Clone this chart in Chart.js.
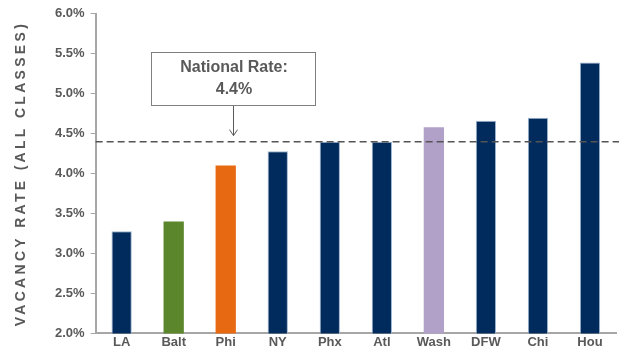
<!DOCTYPE html>
<html>
<head>
<meta charset="utf-8">
<script src="https://cdn.jsdelivr.net/npm/chart.js@4.4.1/dist/chart.umd.min.js"></script>
<style>
  html, body { margin: 0; padding: 0; background: #ffffff; }
  #wrap { width: 619px; height: 353px; position: relative; }
</style>
</head>
<body>
<div id="wrap"><canvas id="c" width="619" height="353"></canvas></div>
<script>
// Office vacancy rate by metro (all classes), with the national average marked
const markets = ['LA', 'Balt', 'Phi', 'NY', 'Phx', 'Atl', 'Wash', 'DFW', 'Chi', 'Hou'];
const vacancyRates = [3.28, 3.40, 4.10, 4.28, 4.40, 4.40, 4.58, 4.66, 4.70, 5.39];
const barColors = ['#002b5c', '#5b862b', '#e76a12', '#002b5c', '#002b5c', '#002b5c', '#b1a1c8', '#002b5c', '#002b5c', '#002b5c'];
const barEdges = ['#9fb4d0', null, null, '#9fb4d0', '#9fb4d0', '#9fb4d0', null, '#9fb4d0', '#9fb4d0', '#9fb4d0'];
const nationalRate = 4.4;
const nationalLabel = ['National Rate:', '4.4%'];
const yTitle = 'VACANCY RATE (ALL CLASSES)';
const yMin = 2.0, yMax = 6.0, yStep = 0.5;

const FONT = '"Liberation Sans", Arial, sans-serif';
const GREY_TEXT = '#595959';

const nationalLine = {
  id: 'nationalLine',
  afterDatasetsDraw(chart) {
    const { ctx, chartArea, scales } = chart;
    const y = scales.y.getPixelForValue(nationalRate);
    ctx.save();
    // dashed national average line
    ctx.strokeStyle = '#555555';
    ctx.lineWidth = 1.5;
    ctx.setLineDash([7, 4]);
    ctx.beginPath();
    ctx.moveTo(chartArea.left, y);
    ctx.lineTo(chart.width, y);
    ctx.stroke();
    ctx.setLineDash([]);

    // callout box
    const ax = Math.round(scales.x.getPixelForValue(2) + 7);
    const boxW = 164, boxH = 53;
    const boxX = ax - 82, boxY = 52;
    ctx.fillStyle = '#ffffff';
    ctx.fillRect(boxX, boxY, boxW, boxH);
    ctx.strokeStyle = '#7f7f7f';
    ctx.lineWidth = 1;
    ctx.strokeRect(boxX + 0.5, boxY + 0.5, boxW, boxH);

    ctx.fillStyle = GREY_TEXT;
    ctx.font = 'bold 16px ' + FONT;
    ctx.textAlign = 'center';
    ctx.textBaseline = 'middle';
    ctx.fillText(nationalLabel[0], boxX + boxW / 2 + 1, boxY + 16);
    ctx.fillText(nationalLabel[1], boxX + boxW / 2 + 1, boxY + 38);

    // arrow down to the line
    const tipY = y - 6;
    ctx.strokeStyle = '#595959';
    ctx.lineWidth = 1;
    ctx.beginPath();
    ctx.moveTo(ax + 0.5, boxY + boxH + 1);
    ctx.lineTo(ax + 0.5, tipY);
    ctx.moveTo(ax - 3.5, tipY - 6);
    ctx.lineTo(ax + 0.5, tipY);
    ctx.lineTo(ax + 4.5, tipY - 6);
    ctx.stroke();

    // rotated axis title with letter spacing
    ctx.translate(21, (chartArea.top + chartArea.bottom) / 2);
    ctx.rotate(-Math.PI / 2);
    ctx.font = 'bold 14px ' + FONT;
    ctx.letterSpacing = '3.3px';
    ctx.fillStyle = GREY_TEXT;
    ctx.textAlign = 'center';
    ctx.textBaseline = 'middle';
    ctx.fillText(yTitle, 0, 0);
    ctx.restore();
  }
};

new Chart(document.getElementById('c'), {
  type: 'bar',
  data: {
    labels: markets,
    datasets: [{
      data: vacancyRates,
      backgroundColor: barColors,
      borderColor: barEdges.map(c => c || 'rgba(0,0,0,0)'),
      borderWidth: barEdges.map(c => c ? 1 : 0),
      borderSkipped: 'bottom',
      categoryPercentage: 1.0,
      barPercentage: 0.39
    }]
  },
  options: {
    responsive: false,
    animation: false,
    devicePixelRatio: 1,
    layout: { padding: { left: 49, right: 3, top: 11, bottom: 2 } },
    plugins: { legend: { display: false }, tooltip: { enabled: false } },
    scales: {
      x: {
        grid: { display: false, drawTicks: false },
        border: { display: true, color: '#a6a6a6', width: 2 },
        ticks: { color: GREY_TEXT, font: { family: FONT, size: 13, weight: 'bold' }, padding: 1, maxRotation: 0 }
      },
      y: {
        min: yMin, max: yMax,
        grid: { drawOnChartArea: false, drawTicks: true, tickLength: 5, color: '#a6a6a6' },
        border: { display: true, color: '#a6a6a6', width: 2 },
        ticks: {
          stepSize: yStep,
          color: GREY_TEXT,
          padding: 6,
          font: { family: FONT, size: 13, weight: 'bold' },
          callback: v => Number(v).toFixed(1) + '%'
        }
      }
    }
  },
  plugins: [nationalLine]
});
</script>
</body>
</html>
